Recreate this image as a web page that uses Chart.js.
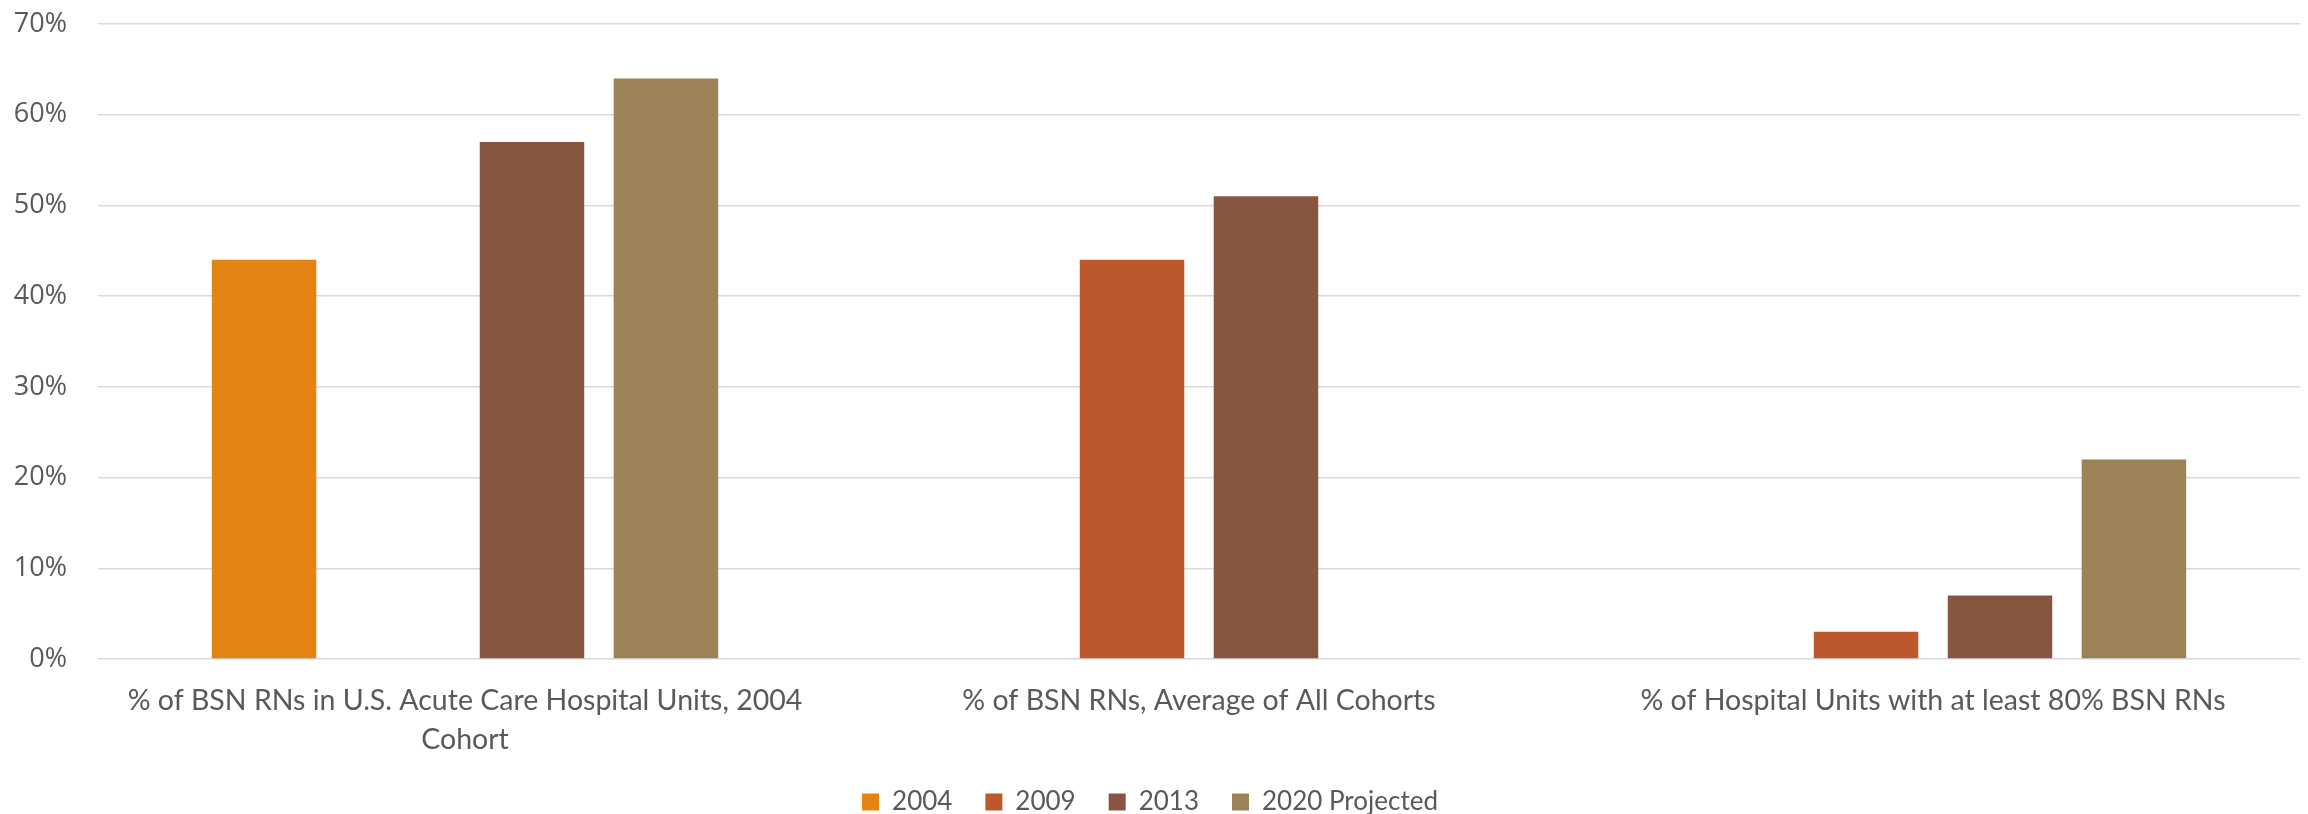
<!DOCTYPE html>
<html>
<head>
<meta charset="utf-8">
<script src="https://cdn.jsdelivr.net/npm/chart.js@4/dist/chart.umd.min.js"></script>
<style>
  html, body { margin: 0; padding: 0; background: #fff; }
  #wrap { width: 2308px; height: 814px; }
</style>
</head>
<body>
<div id="wrap"><canvas id="bsn"></canvas></div>
<script>
// catégories (axe x)
const categories = [
  ['% of BSN RNs in U.S. Acute Care Hospital Units, 2004', 'Cohort'],
  '% of BSN RNs, Average of All Cohorts',
  '% of Hospital Units with at least 80% BSN RNs'
];
// séries
const seriesNames = ['2004', '2009', '2013', '2020 Projected'];
const values2004 = [44, null, null];
const values2009 = [null, 44, 3];
const values2013 = [57, 51, 7];
const values2020 = [64, null, 22];
const seriesColors = ['#E48312', '#BD582C', '#865640', '#9B8357'];
// graduations de l'axe y
const yTicks = [0, 10, 20, 30, 40, 50, 60, 70];

const allValues = [values2004, values2009, values2013, values2020];

const ctx = document.getElementById('bsn');
new Chart(ctx, {
  type: 'bar',
  data: {
    labels: categories,
    datasets: seriesNames.map((name, i) => ({
      label: name,
      data: allValues[i],
      backgroundColor: seriesColors[i],
      borderWidth: 0,
      barPercentage: 0.78,
      categoryPercentage: 0.73
    }))
  },
  options: {
    responsive: true,
    maintainAspectRatio: false,
    animation: false,
    layout: { padding: { top: 0, right: 8, left: 0, bottom: -11 } },
    plugins: {
      tooltip: { enabled: false },
      legend: {
        position: 'bottom',
        labels: {
          boxWidth: 17,
          boxHeight: 17,
          padding: 33,
          color: '#595959',
          font: { family: 'Lato', size: 26 }
        }
      }
    },
    scales: {
      x: {
        afterFit: axis => { axis.height = 97; },
        grid: { display: false, drawTicks: false },
        border: { display: false },
        ticks: {
          color: '#595959',
          font: { family: 'Lato', size: 28.5, lineHeight: 1.38 },
          maxRotation: 0,
          autoSkip: false,
          padding: 22
        }
      },
      y: {
        min: 0,
        max: 70,
        afterBuildTicks: axis => { axis.ticks = yTicks.map(v => ({ value: v })); },
        afterFit: axis => { axis.width = 98; axis.paddingTop = 24; },
        grid: { color: '#D9D9D9', lineWidth: 1.5, drawTicks: false },
        border: { display: false },
        ticks: {
          color: '#595959',
          font: { family: 'Open Sans', size: 27 },
          padding: 31,
          callback: v => v + '%'
        }
      }
    }
  }
});
</script>
</body>
</html>
